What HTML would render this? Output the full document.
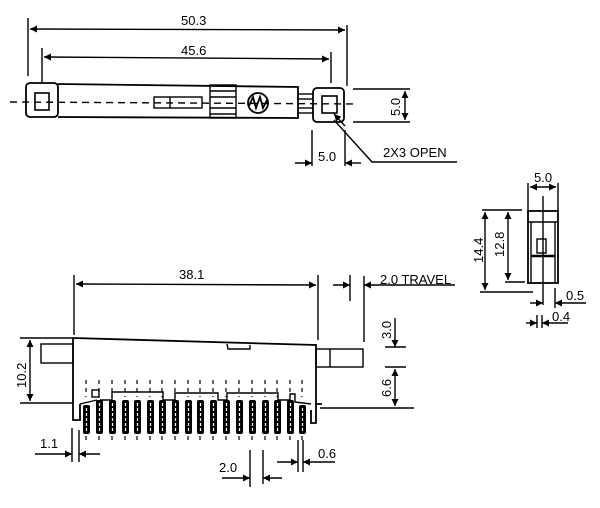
<!DOCTYPE html>
<html><head><style>
html,body{margin:0;padding:0;background:#fff}
svg{display:block}
text{font-family:"Liberation Sans",sans-serif;font-size:13px;fill:#000}
</style></head><body>
<svg width="600" height="508" viewBox="0 0 600 508" xmlns="http://www.w3.org/2000/svg">
<defs>
<marker id="a" viewBox="0 0 10 10" refX="10" refY="5" markerWidth="9" markerHeight="7" orient="auto-start-reverse" markerUnits="userSpaceOnUse"><path d="M0,0 L10,5 L0,10 z" fill="#000"/></marker>
</defs>
<g stroke="#000" stroke-width="1.4" fill="none">
<line x1="28" y1="18" x2="28" y2="76"/><line x1="347" y1="25" x2="347" y2="86"/>
<line x1="30" y1="29" x2="345" y2="30" marker-start="url(#a)" marker-end="url(#a)"/>
<line x1="42" y1="48" x2="42" y2="82"/><line x1="331" y1="52" x2="331" y2="83"/>
<line x1="44" y1="57" x2="329" y2="59" marker-start="url(#a)" marker-end="url(#a)"/>
<rect x="26" y="83" width="32" height="34" rx="4" stroke-width="1.8"/>
<rect x="35" y="93" width="14" height="17" stroke-width="1.6"/>
<path d="M58,84 L298,87 L298,118 L58,117" stroke-width="1.8"/>
<rect x="154" y="97" width="48" height="11"/><line x1="170" y1="97" x2="170" y2="108"/>
<rect x="210" y="85" width="26" height="33"/>
<line x1="210" y1="91" x2="236" y2="91"/><line x1="210" y1="97" x2="236" y2="97"/><line x1="210" y1="108" x2="236" y2="108"/><line x1="210" y1="114" x2="236" y2="114"/>
<circle cx="258" cy="103" r="10" stroke-width="1.8"/>
<path d="M249,106 L253,97 L256,108 L260,97 L263,108 L267,100" stroke-width="1.8"/>
<line x1="298" y1="94" x2="313" y2="94"/><line x1="298" y1="99" x2="313" y2="99"/><line x1="298" y1="108" x2="313" y2="108"/><line x1="298" y1="113" x2="313" y2="113"/>
<rect x="313" y="88" width="31" height="34" rx="4" stroke-width="1.8"/>
<rect x="322" y="96" width="15" height="17" stroke-width="1.6"/>
<line x1="10" y1="102" x2="358" y2="104" stroke-dasharray="7,5"/>
<line x1="353" y1="89" x2="410" y2="89"/><line x1="353" y1="122" x2="410" y2="122"/>
<line x1="405" y1="91" x2="405" y2="120" marker-start="url(#a)" marker-end="url(#a)"/>
<line x1="312" y1="130" x2="312" y2="166"/><line x1="345" y1="130" x2="345" y2="166"/>
<line x1="295" y1="163" x2="312" y2="163" marker-end="url(#a)"/>
<line x1="361" y1="163" x2="345" y2="163" marker-end="url(#a)"/>
<path d="M457,162 L372,162 L334,120"/>
<line x1="345" y1="126" x2="334" y2="114" marker-end="url(#a)"/>
<line x1="528" y1="183" x2="528" y2="212"/><line x1="558" y1="183" x2="558" y2="212"/>
<line x1="530" y1="187" x2="556" y2="187" marker-start="url(#a)" marker-end="url(#a)"/>
<rect x="528" y="211" width="30" height="72" stroke-width="1.8"/>
<line x1="528" y1="222" x2="558" y2="222"/>
<line x1="531" y1="222" x2="531" y2="283"/><line x1="555" y1="222" x2="555" y2="283"/>
<line x1="531" y1="256" x2="555" y2="256" stroke-width="2.5"/>
<rect x="537" y="239" width="9" height="14"/>
<line x1="543" y1="196" x2="543" y2="305"/>
<line x1="482" y1="210" x2="522" y2="210"/><line x1="480" y1="292" x2="533" y2="292"/>
<line x1="485" y1="212" x2="485" y2="290" marker-start="url(#a)" marker-end="url(#a)"/>
<line x1="505" y1="282" x2="525" y2="282"/>
<line x1="508" y1="212" x2="508" y2="280" marker-start="url(#a)" marker-end="url(#a)"/>
<line x1="555" y1="288" x2="555" y2="308"/>
<line x1="530" y1="303" x2="543" y2="303" marker-end="url(#a)"/>
<line x1="586" y1="303" x2="555" y2="303" marker-end="url(#a)"/>
<line x1="537" y1="315" x2="537" y2="328"/><line x1="542" y1="315" x2="542" y2="328"/>
<line x1="526" y1="323" x2="537" y2="323" marker-end="url(#a)"/>
<line x1="568" y1="323" x2="542" y2="323" marker-end="url(#a)"/>
<line x1="74" y1="275" x2="74" y2="335"/><line x1="318" y1="275" x2="318" y2="340"/>
<line x1="76" y1="284" x2="316" y2="285" marker-start="url(#a)" marker-end="url(#a)"/>
<line x1="350" y1="275" x2="350" y2="301"/><line x1="364" y1="276" x2="364" y2="342"/>
<line x1="333" y1="285" x2="350" y2="285" marker-end="url(#a)"/>
<line x1="455" y1="285" x2="364" y2="285" marker-end="url(#a)"/>
<path d="M73,338 L316,345 L316,404 L322,404" stroke-width="1.8"/>
<path d="M73,338 L73,420 L80,420 L80,404" stroke-width="1.8"/>
<path d="M316,404 L316,423 L311,423 L311,410" stroke-width="1.8"/>
<path d="M227,344 L228,349 L250,349 L250,345" />
<rect x="41" y="344" width="32" height="19"/>
<rect x="316" y="349" width="47" height="18"/><line x1="330" y1="349" x2="330" y2="367"/>
<line x1="20" y1="338" x2="73" y2="338"/><line x1="20" y1="403" x2="73" y2="403"/>
<line x1="30" y1="340" x2="30" y2="401" marker-start="url(#a)" marker-end="url(#a)"/>
<line x1="320" y1="408" x2="414" y2="408"/>
<line x1="385" y1="347" x2="406" y2="347"/><line x1="385" y1="367" x2="406" y2="367"/>
<line x1="395" y1="318" x2="395" y2="347" marker-end="url(#a)"/>
<line x1="395" y1="369" x2="395" y2="406" marker-start="url(#a)" marker-end="url(#a)"/>
<path d="M80,404 L97,400 M100,400 L112,400 L112,392 L163,392 L163,400 L175,400 L175,393 L218,393 L218,400 L227,400 L227,393 L278,393 L278,400 L290,400 L290,394 L295,394 L295,402 L311,404"/>
<rect x="92" y="390" width="7" height="7"/>
<line x1="72" y1="428" x2="72" y2="462"/><line x1="79" y1="430" x2="79" y2="462"/>
<line x1="35" y1="454" x2="72" y2="454" marker-end="url(#a)"/>
<line x1="100" y1="454" x2="79" y2="454" marker-end="url(#a)"/>
<line x1="250" y1="450" x2="250" y2="487"/><line x1="263" y1="450" x2="263" y2="484"/>
<line x1="222" y1="478" x2="250" y2="478" marker-end="url(#a)"/>
<line x1="282" y1="478" x2="263" y2="478" marker-end="url(#a)"/>
<line x1="298" y1="440" x2="298" y2="472"/><line x1="303" y1="440" x2="303" y2="472"/>
<line x1="277" y1="462" x2="298" y2="462" marker-end="url(#a)"/>
<line x1="335" y1="462" x2="303" y2="462" marker-end="url(#a)"/>
</g>
<text x="181" y="25">50.3</text>
<text x="181" y="55">45.6</text>
<text x="318" y="161">5.0</text>
<text x="383" y="157">2X3  OPEN</text>
<text transform="translate(400,116) rotate(-90)">5.0</text>
<text x="534" y="182">5.0</text>
<text transform="translate(483,263) rotate(-90)">14.4</text>
<text transform="translate(504,257) rotate(-90)">12.8</text>
<text x="566" y="300">0.5</text>
<text x="552" y="321">0.4</text>
<text x="179" y="279">38.1</text>
<text x="380" y="284">2.0  TRAVEL</text>
<text transform="translate(26,388) rotate(-90)">10.2</text>
<text transform="translate(391,339) rotate(-90)">3.0</text>
<text transform="translate(391,397) rotate(-90)">6.6</text>
<text x="40" y="448">1.1</text>
<text x="219" y="472">2.0</text>
<text x="318" y="458">0.6</text>
<g stroke="#000" stroke-width="1.2" stroke-dasharray="4,4">
<path d="M86,380V397 M99,380V397 M112,380V397 M125,380V397 M137,380V397 M150,380V397 M162,380V397 M175,380V397 M188,380V397 M200,380V397 M213,380V397 M226,380V397 M239,380V397 M252,380V397 M265,380V397 M277,380V397 M290,380V397 M302,380V397"/>
<path d="M86,436V443 M99,436V443 M112,436V443 M125,436V443 M137,436V443 M150,436V443 M162,436V443 M175,436V443 M188,436V443 M200,436V443 M213,436V443 M226,436V443 M239,436V443 M252,436V443 M265,436V443 M277,436V443 M290,436V443 M302,436V443"/>
</g>
<g fill="#000">
<rect x="83" y="405" width="7" height="29" rx="2"/><rect x="96" y="400" width="7" height="34" rx="2"/><rect x="109" y="400" width="7" height="34" rx="2"/><rect x="122" y="400" width="7" height="34" rx="2"/><rect x="134" y="400" width="7" height="34" rx="2"/><rect x="147" y="400" width="7" height="34" rx="2"/><rect x="159" y="400" width="7" height="34" rx="2"/><rect x="172" y="400" width="7" height="34" rx="2"/><rect x="185" y="400" width="7" height="34" rx="2"/><rect x="197" y="400" width="7" height="34" rx="2"/><rect x="210" y="400" width="7" height="34" rx="2"/><rect x="223" y="400" width="7" height="34" rx="2"/><rect x="236" y="400" width="7" height="34" rx="2"/><rect x="249" y="400" width="7" height="34" rx="2"/><rect x="262" y="400" width="7" height="34" rx="2"/><rect x="274" y="400" width="7" height="34" rx="2"/><rect x="287" y="400" width="7" height="34" rx="2"/><rect x="299" y="405" width="7" height="29" rx="2"/>
</g>
<g stroke="#fff" stroke-width="1.2" stroke-dasharray="3,2">
<path d="M86.5,408V431 M99.5,403V431 M112.5,403V431 M125.5,403V431 M137.5,403V431 M150.5,403V431 M162.5,403V431 M175.5,403V431 M188.5,403V431 M200.5,403V431 M213.5,403V431 M226.5,403V431 M239.5,403V431 M252.5,403V431 M265.5,403V431 M277.5,403V431 M290.5,403V431 M302.5,408V431"/>
</g>
</svg>
</body></html>
